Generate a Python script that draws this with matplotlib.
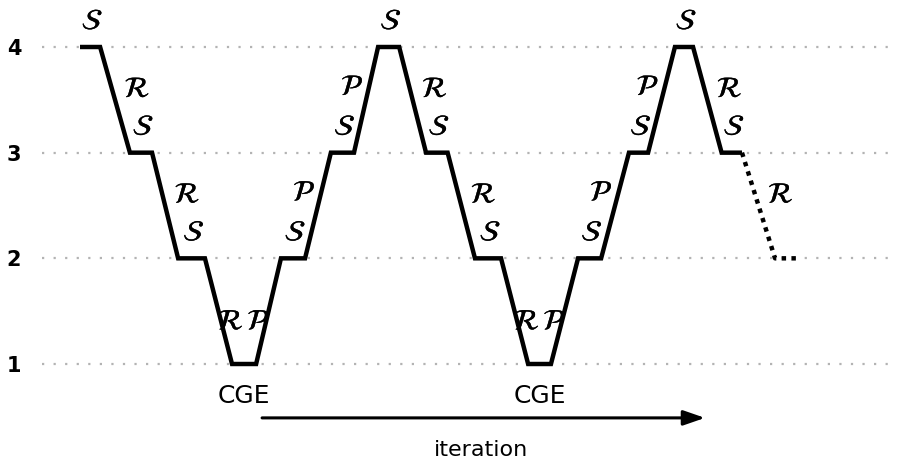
import matplotlib
matplotlib.use("Agg")
import matplotlib.pyplot as plt
import matplotlib.patheffects as pe

# ---- data ----
levels = [1, 2, 3, 4]
level_labels = ["1", "2", "3", "4"]

# solid V-cycle path (x in iteration units, y = grid level)
path_x = [0.0, 0.81, 2.01, 2.90, 3.95, 5.03, 6.12, 7.09, 8.09, 9.06, 10.10, 11.03,
          12.0, 12.85, 13.93, 14.80, 15.90, 16.95, 18.04, 18.96, 20.05, 20.98,
          22.10, 22.87, 23.95, 24.68, 25.83, 26.65]
path_y = [4, 4, 3, 3, 2, 2, 1, 1, 2, 2, 3, 3, 4, 4, 3, 3, 2, 2, 1, 1, 2, 2, 3, 3, 4, 4, 3, 3]

# dotted continuation
dot_x = [26.65, 27.98, 28.91]
dot_y = [3, 2, 2]

coarse_label = "CGE"
arrow_label = "iteration"
arrow_start, arrow_end = 7.33, 25.16

# ---- figure ----
W, H = 897, 461
fig = plt.figure(figsize=(W / 100, H / 100), dpi=100)
left_px = 42
ax = fig.add_axes([left_px / W, 0, 1 - left_px / W, 1])
px_per_u = 24.84
ax.set_xlim((left_px - 80) / px_per_u, (W - 80) / px_per_u)
px_per_lvl = 105.67
ax.set_ylim(1 - (H - 364) / px_per_lvl, 4 + 47 / px_per_lvl)

for s in ax.spines.values():
    s.set_visible(False)
ax.set_xticks([])
ax.set_yticks(levels)
ax.set_yticklabels(level_labels, fontsize=15, fontweight="bold")
ax.tick_params(axis="y", length=0, pad=15)
for lv in levels:
    ax.axhline(lv, color="#b3b3b3", lw=1.6, linestyle=(0, (1, 4.2)), zorder=0)

ax.plot(path_x, path_y, color="black", lw=3.2, solid_joinstyle="miter",
        solid_capstyle="butt", zorder=3)
ax.plot(dot_x, dot_y, color="black", lw=3.2, linestyle=(0, (1, 1.2)), zorder=3)

fs = 21
thick = [pe.withStroke(linewidth=0.25, foreground="black")]


def sym(x, y, letter):
    ax.text(x, y, r"$\mathcal{" + letter + "}$", fontsize=fs, ha="center",
            va="center", path_effects=thick)


# labels along the path
allx = path_x + dot_x[1:]
ally = path_y + dot_y[1:]
n = len(allx)
for i in range(n - 1):
    x0, x1 = allx[i], allx[i + 1]
    y0, y1 = ally[i], ally[i + 1]
    xm, ym = (x0 + x1) / 2, (y0 + y1) / 2
    if y0 == y1:
        if y0 == 1:
            ax.text(xm, y0 - 0.3, coarse_label, fontsize=18, ha="center", va="center")
        elif i < n - 2:
            sym(xm + 0.1, y0 + 0.24, "S")
    elif y1 < y0:
        if y1 == 1:
            sym(xm + 0.5, ym - 0.1, "R")
        else:
            sym(xm + 0.9, ym + 0.1, "R")
    else:
        if y0 == 1:
            sym(xm - 0.4, ym - 0.1, "P")
        else:
            sym(xm - 0.55, ym + 0.12, "P")

ax.annotate("", xy=(arrow_end, 0.49), xytext=(arrow_start, 0.49),
            arrowprops=dict(arrowstyle="-|>,head_length=1.3,head_width=0.45",
                            color="black", lw=2.2, shrinkA=0, shrinkB=0))
ax.text((arrow_start + arrow_end) / 2 - 0.1, 0.19, arrow_label, fontsize=16,
        ha="center", va="center")

fig.savefig("out.png", dpi=100)
